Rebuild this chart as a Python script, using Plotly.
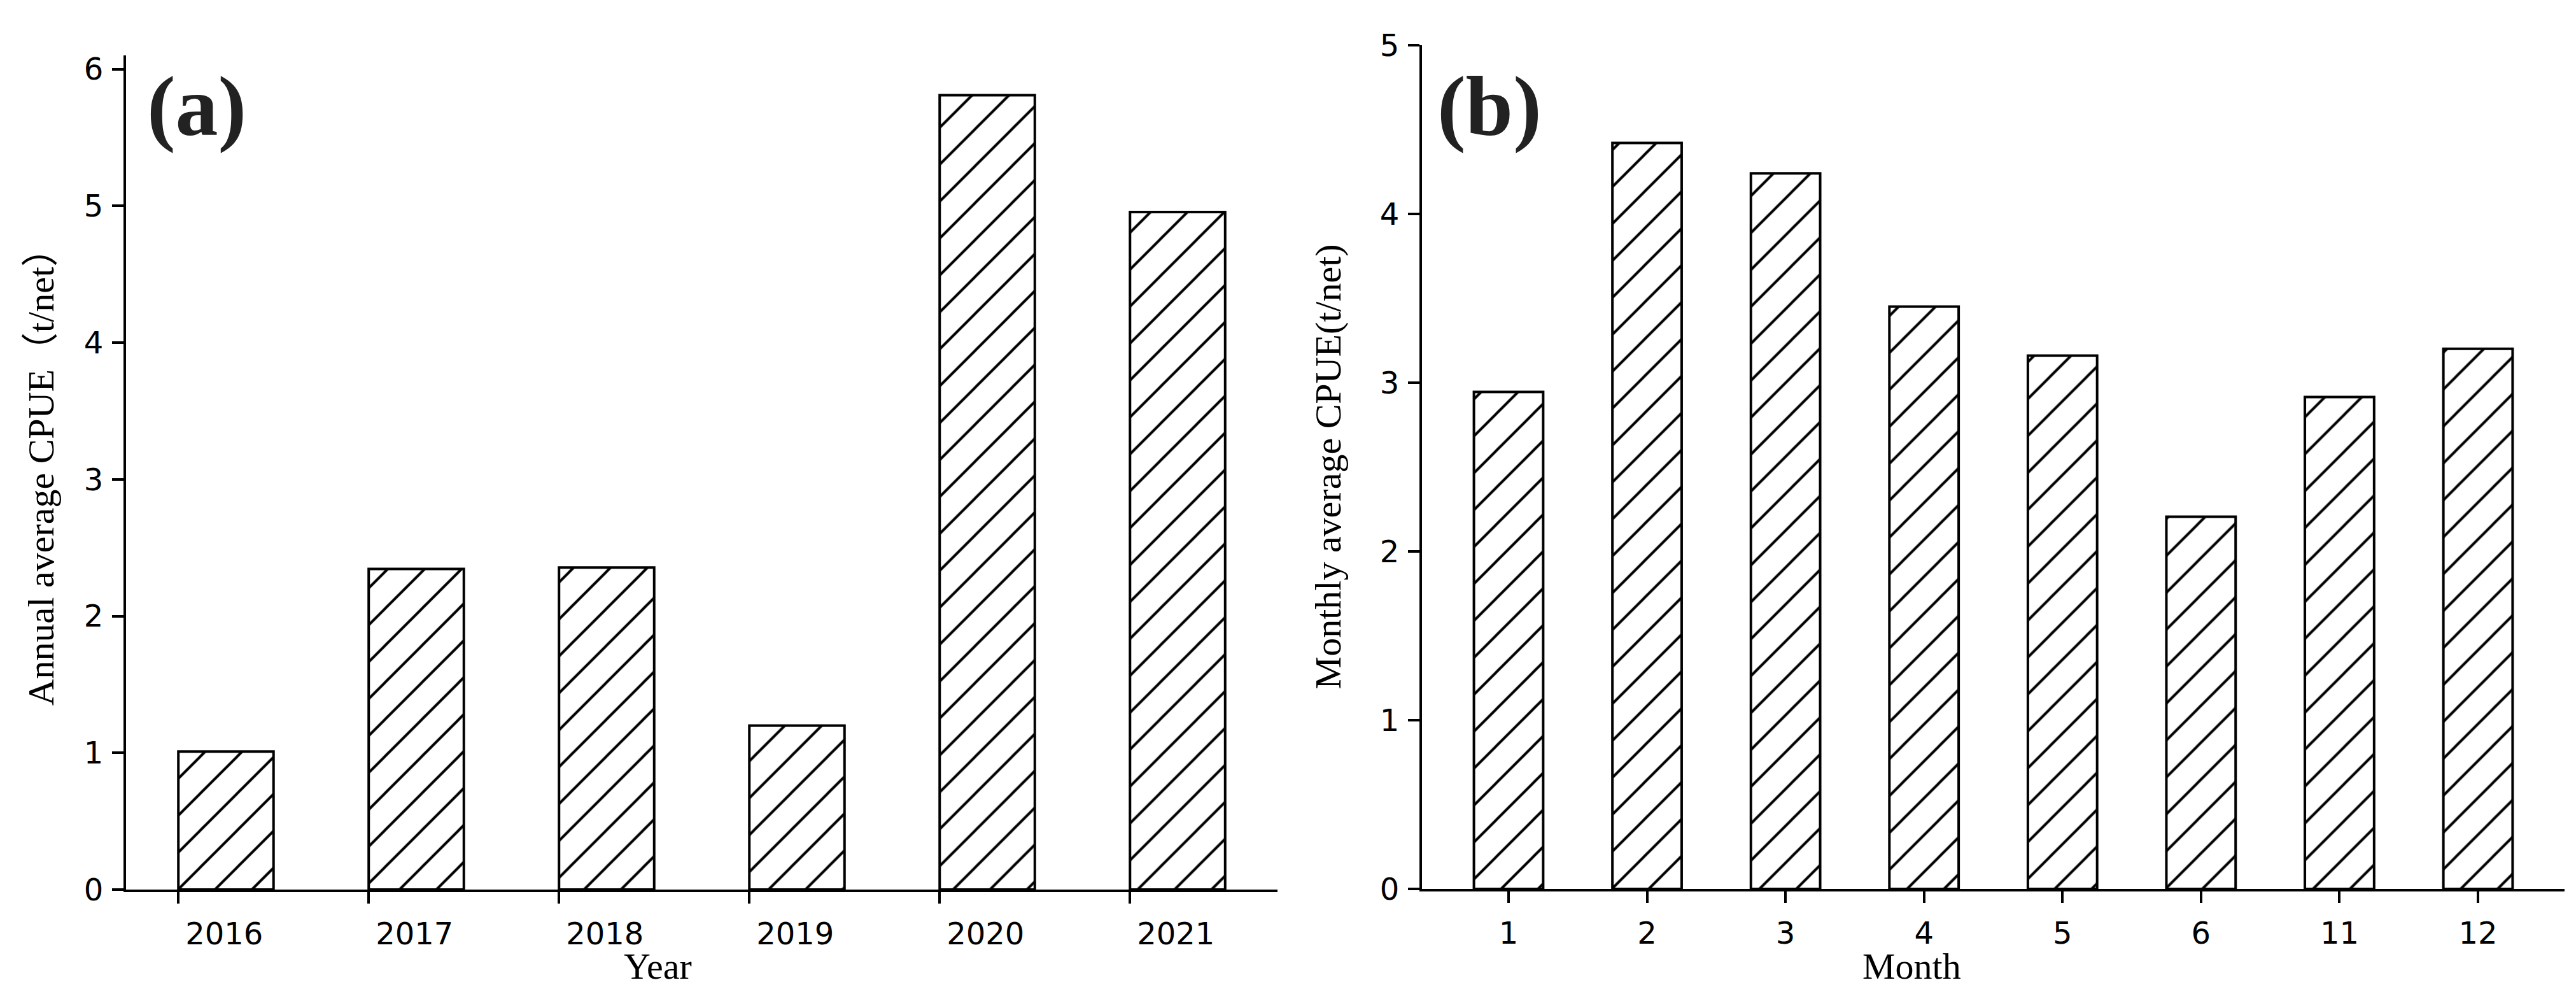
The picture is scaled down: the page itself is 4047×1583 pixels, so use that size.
import plotly.graph_objects as go

W, H = 4047, 1583

# ---- data ----
years = ["2016", "2017", "2018", "2019", "2020", "2021"]
annual_cpue = [1.01, 2.345, 2.355, 1.20, 5.81, 4.955]

months = ["1", "2", "3", "4", "5", "6", "11", "12"]
monthly_cpue = [2.945, 4.42, 4.24, 3.45, 3.16, 2.205, 2.915, 3.20]

# ---- helpers (pixel -> paper) ----
def px(x):
    return x / W

def py(y):
    return 1 - y / H

marker = dict(
    color="white",
    line=dict(color="black", width=4),
    pattern=dict(shape="/", size=41, solidity=0.1, fgcolor="black", fgopacity=1,
                 bgcolor="white", fillmode="replace"),
)

fig = go.Figure()
# panel (a): bars drawn from the tick position to the right (edge aligned)
fig.add_trace(go.Bar(x=years, y=annual_cpue, xaxis="x", yaxis="y", marker=marker,
                     width=0.5, offset=0, showlegend=False))
# panel (b): bars centred on ticks
fig.add_trace(go.Bar(x=months, y=monthly_cpue, xaxis="x2", yaxis="y2", marker=marker,
                     width=0.5, showlegend=False))

tickfont = dict(family="DejaVu Sans", size=48, color="black")
axis_common = dict(
    showline=True, linecolor="black", linewidth=4,
    ticks="outside", ticklen=18, tickwidth=3.5, tickcolor="black",
    showgrid=False, zeroline=False, tickfont=tickfont, mirror=False,
)

fig.update_layout(
    width=W, height=H, autosize=False,
    margin=dict(l=0, r=0, t=0, b=0),
    paper_bgcolor="white", plot_bgcolor="white",
    xaxis=dict(domain=[px(190), px(1999)], anchor="y", type="category",
               range=[-0.275, 5.775], ticklabelshift=72, ticklabelstandoff=6,
               **axis_common),
    yaxis=dict(domain=[py(1411), py(53)], anchor="x", range=[0, 6.1],
               tickvals=[0, 1, 2, 3, 4, 5, 6], ticklabelstandoff=4, **axis_common),
    xaxis2=dict(domain=[px(2226), px(4021)], anchor="y2", type="category",
                range=[-0.625, 7.625], ticklabelstandoff=6, **axis_common),
    yaxis2=dict(domain=[py(1410), py(36)], anchor="x2", range=[0, 5],
                tickvals=[0, 1, 2, 3, 4, 5], ticklabelstandoff=4, **axis_common),
)

serif = "Liberation Serif, Times New Roman, Noto Sans CJK SC, serif"
title_font = dict(family=serif, size=58, color="black")
label_font = dict(family="Liberation Serif, Times New Roman, serif", size=134, color="#222222")

annotations = [
    dict(text="Annual average CPUE（t/net）", x=px(56), y=py(725), textangle=-90,
         font=title_font),
    dict(text="Monthly average CPUE(t/net)", x=px(2078), y=py(723), textangle=-90,
         font=title_font),
    dict(text="Year", x=px(1025), y=py(1536), font=title_font),
    dict(text="Month", x=px(2995), y=py(1536), font=title_font),
    dict(text="<b>(a)</b>", x=px(301), y=py(136), font=label_font),
    dict(text="<b>(b)</b>", x=px(2332), y=py(136), font=label_font),
]
for a in annotations:
    a.update(xref="paper", yref="paper", xanchor="center", yanchor="middle",
             showarrow=False)
fig.update_layout(annotations=annotations)

fig.write_html("out.html")
